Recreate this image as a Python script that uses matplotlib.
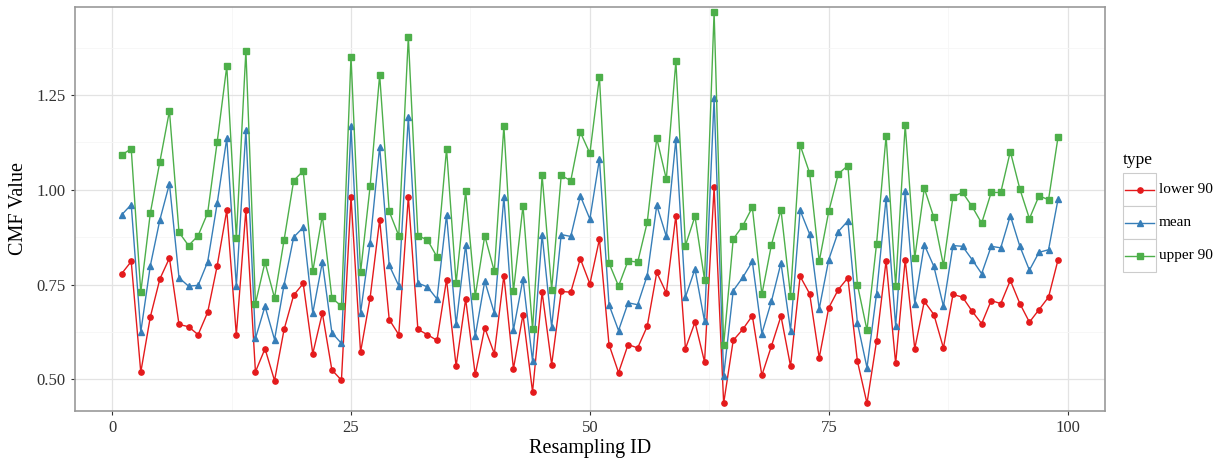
import numpy as np
import matplotlib
matplotlib.use("Agg")
import matplotlib.pyplot as plt
from matplotlib.lines import Line2D
from matplotlib.patches import Rectangle

plt.rcParams['font.family'] = ['Liberation Serif', 'DejaVu Serif']

ids = np.arange(1, 100)

lower = [0.779, 0.811, 0.519, 0.665, 0.765, 0.820, 0.645, 0.639, 0.618, 0.677,
         0.800, 0.946, 0.617, 0.947, 0.520, 0.581, 0.497, 0.632, 0.722, 0.753,
         0.568, 0.675, 0.525, 0.498, 0.982, 0.572, 0.715, 0.921, 0.658, 0.618,
         0.982, 0.632, 0.618, 0.603, 0.763, 0.535, 0.712, 0.513, 0.636, 0.568,
         0.774, 0.528, 0.671, 0.467, 0.730, 0.539, 0.732, 0.730, 0.818, 0.752,
         0.870, 0.592, 0.518, 0.592, 0.583, 0.640, 0.782, 0.728, 0.932, 0.581,
         0.651, 0.546, 1.007, 0.437, 0.603, 0.632, 0.668, 0.511, 0.588, 0.667,
         0.535, 0.772, 0.726, 0.557, 0.689, 0.737, 0.768, 0.548, 0.437, 0.601,
         0.813, 0.542, 0.816, 0.581, 0.706, 0.671, 0.583, 0.724, 0.717, 0.680,
         0.647, 0.708, 0.700, 0.761, 0.700, 0.651, 0.684, 0.717, 0.816]

mean = [0.934, 0.961, 0.625, 0.800, 0.921, 1.016, 0.768, 0.746, 0.748, 0.810,
        0.965, 1.136, 0.746, 1.158, 0.608, 0.693, 0.605, 0.750, 0.875, 0.901,
        0.675, 0.809, 0.623, 0.595, 1.167, 0.675, 0.860, 1.114, 0.801, 0.747,
        1.193, 0.754, 0.744, 0.712, 0.934, 0.645, 0.855, 0.614, 0.759, 0.675,
        0.981, 0.630, 0.765, 0.548, 0.882, 0.638, 0.882, 0.877, 0.984, 0.923,
        1.081, 0.697, 0.629, 0.702, 0.697, 0.774, 0.959, 0.877, 1.133, 0.717,
        0.791, 0.653, 1.241, 0.509, 0.734, 0.769, 0.811, 0.621, 0.706, 0.807,
        0.629, 0.946, 0.883, 0.686, 0.816, 0.890, 0.918, 0.649, 0.531, 0.726,
        0.978, 0.640, 0.996, 0.700, 0.855, 0.798, 0.693, 0.853, 0.851, 0.816,
        0.779, 0.851, 0.847, 0.932, 0.851, 0.788, 0.835, 0.842, 0.976]

upper = [1.092, 1.108, 0.730, 0.939, 1.074, 1.208, 0.888, 0.853, 0.879, 0.939,
         1.127, 1.326, 0.873, 1.367, 0.700, 0.809, 0.715, 0.868, 1.024, 1.050,
         0.785, 0.932, 0.715, 0.693, 1.351, 0.782, 1.009, 1.303, 0.943, 0.879,
         1.403, 0.879, 0.868, 0.823, 1.108, 0.754, 0.996, 0.719, 0.879, 0.785,
         1.168, 0.732, 0.958, 0.632, 1.038, 0.737, 1.038, 1.024, 1.152, 1.096,
         1.298, 0.807, 0.746, 0.813, 0.809, 0.914, 1.136, 1.028, 1.339, 0.853,
         0.930, 0.763, 1.469, 0.590, 0.870, 0.905, 0.954, 0.724, 0.855, 0.947,
         0.721, 1.118, 1.044, 0.811, 0.943, 1.042, 1.064, 0.750, 0.630, 0.857,
         1.142, 0.746, 1.171, 0.820, 1.004, 0.927, 0.801, 0.982, 0.993, 0.956,
         0.912, 0.993, 0.993, 1.101, 1.002, 0.924, 0.984, 0.974, 1.140]

series = [("lower 90", lower, "#E41A1C", "o"),
          ("mean", mean, "#377EB8", "^"),
          ("upper 90", upper, "#4DAF4A", "s")]

fig = plt.figure(figsize=(12.27, 4.68), dpi=100)
ax = fig.add_axes([0.061, 0.122, 0.8395, 0.863])

for name, vals, col, mk in series:
    ax.plot(ids, vals, color=col, marker=mk, markersize=3.8, linewidth=1.0, label=name)

ax.set_xlim(-3.9, 103.9)
ax.set_ylim(0.417, 1.482)
ax.set_xticks([0, 25, 50, 75, 100])
ax.set_yticks([0.50, 0.75, 1.00, 1.25])
ax.set_yticklabels(["0.50", "0.75", "1.00", "1.25"])
ax.set_xticks([12.5, 37.5, 62.5, 87.5], minor=True)
ax.set_yticks([0.625, 0.875, 1.125, 1.375], minor=True)
ax.grid(True, which="major", color="#e3e3e3", linewidth=0.9)
ax.grid(True, which="minor", color="#f6f6f6", linewidth=0.6)
ax.set_axisbelow(True)
ax.tick_params(which="major", length=3, color="#333333", labelsize=12, labelcolor="#333333")
ax.tick_params(which="minor", length=0)
for s in ax.spines.values():
    s.set_color("#999999")
    s.set_linewidth(1.2)

ax.set_xlabel("Resampling ID", fontsize=14.5, labelpad=2)
ax.set_ylabel("CMF Value", fontsize=14.5, labelpad=6)

# legend keys drawn like ggplot: title, then boxed keys
fig.text(0.915, 0.658, "type", fontsize=12.5, va="center")
row_h = 0.0705
for i, (name, vals, col, mk) in enumerate(series):
    top = 0.630 - i * row_h
    yc = top - row_h / 2
    fig.patches.append(Rectangle((0.9152, top - row_h), 0.0269, row_h, transform=fig.transFigure,
                                 facecolor="white", edgecolor="#cccccc", linewidth=0.8))
    fig.lines.append(Line2D([0.9165, 0.9408], [yc, yc], transform=fig.transFigure,
                            color=col, linewidth=1.0))
    fig.lines.append(Line2D([0.9287], [yc], transform=fig.transFigure, color=col,
                            marker=mk, markersize=3.8))
    fig.text(0.9445, yc, name, fontsize=11, va="center")

fig.savefig("out.png", dpi=100)
